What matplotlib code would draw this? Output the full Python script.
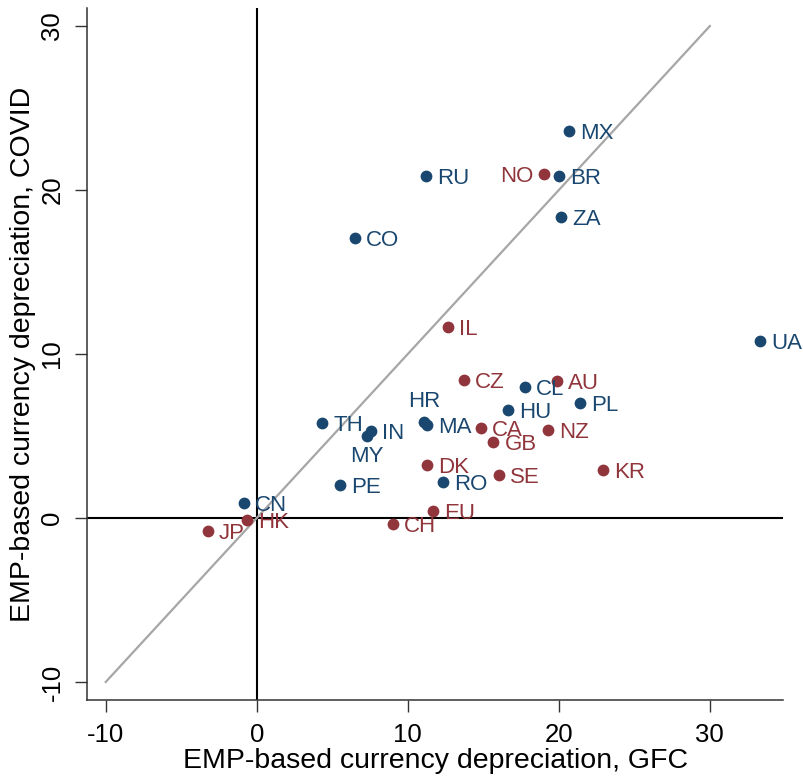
import matplotlib
matplotlib.use("Agg")
import matplotlib.pyplot as plt

plt.rcParams['font.family'] = ['Liberation Sans', 'DejaVu Sans']

# Emerging markets (blue)
em_codes = ["MX", "RU", "BR", "ZA", "CO", "UA", "CL", "PL", "HU", "TH",
            "HR", "MA", "IN", "MY", "PE", "RO", "CN"]
em_gfc = [20.68, 11.20, 20.02, 20.15, 6.51, 33.33, 17.77, 21.41, 16.64, 4.32,
          11.08, 11.28, 7.57, 7.30, 5.52, 12.33, -0.84]
em_covid = [23.60, 20.85, 20.85, 18.35, 17.07, 10.79, 7.99, 7.01, 6.59, 5.79,
            5.85, 5.67, 5.30, 5.00, 2.01, 2.20, 0.91]

# Advanced economies (red)
ae_codes = ["NO", "IL", "CZ", "AU", "CA", "NZ", "GB", "DK", "SE", "KR",
            "EU", "CH", "JP", "HK"]
ae_gfc = [19.03, 12.67, 13.73, 19.87, 14.85, 19.31, 15.67, 11.30, 16.03, 22.93,
          11.66, 9.01, -3.25, -0.66]
ae_covid = [20.98, 11.65, 8.41, 8.35, 5.51, 5.37, 4.62, 3.23, 2.62, 2.93,
            0.45, -0.38, -0.77, -0.12]

# label positions: default right of the marker
label_pos = {"NO": "left", "HR": "top", "MY": "bottom"}

diag = [-10, 30]
ticks = [-10, 0, 10, 20, 30]

BLUE = "#1a476f"
RED = "#90353b"

fig = plt.figure(figsize=(8.04, 7.79), dpi=100)
ax = fig.add_axes([0.1086, 0.1014, 0.974 - 0.1086, 0.9897 - 0.1014])

ax.set_xlim(-11.22, 34.85)
ax.set_ylim(-11.1, 31.1)

ax.axhline(0, color="black", lw=1.5, zorder=1)
ax.axvline(0, color="black", lw=1.5, zorder=1)
ax.plot(diag, diag, color="#a6a6a6", lw=1.6, zorder=2)

def place(codes, xs, ys, color):
    ax.scatter(xs, ys, s=72, color=color, zorder=3, linewidths=0)
    for c, x, y in zip(codes, xs, ys):
        pos = label_pos.get(c, "right")
        if pos == "right":
            off, ha, va = (8, 0), "left", "center_baseline"
        elif pos == "left":
            off, ha, va = (-8, 0), "right", "center_baseline"
        elif pos == "top":
            off, ha, va = (0, 7), "center", "bottom"
        else:
            off, ha, va = (0, -7), "center", "top"
        ax.annotate(c, (x, y), xytext=off, textcoords="offset points",
                    ha=ha, va=va, color=color, fontsize=16, zorder=4)

place(em_codes, em_gfc, em_covid, BLUE)
place(ae_codes, ae_gfc, ae_covid, RED)

ax.set_xticks(ticks)
ax.set_yticks(ticks)
ax.set_xticklabels([str(t) for t in ticks])
ax.set_yticklabels([str(t) for t in ticks], rotation=90, va="center")
ax.tick_params(axis="both", direction="out", length=8.5, width=1.0,
               labelsize=18.5, pad=8, color="#333333")
for s in ["top", "right"]:
    ax.spines[s].set_visible(False)
for s in ["left", "bottom"]:
    ax.spines[s].set_linewidth(1.1)
    ax.spines[s].set_color("#333333")

ax.set_xlabel("EMP-based currency depreciation, GFC", fontsize=20.5, labelpad=1)
ax.set_ylabel("EMP-based currency depreciation, COVID", fontsize=20.5, labelpad=3)

fig.savefig("out.png", dpi=100)
